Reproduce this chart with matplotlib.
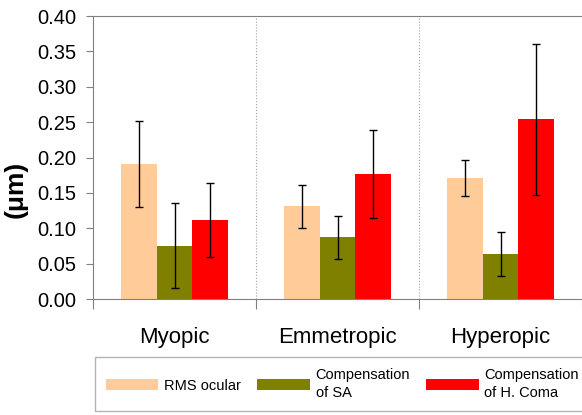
import numpy as np
import matplotlib.pyplot as plt

plt.rcParams['font.family'] = ['Liberation Sans', 'DejaVu Sans']

# data
groups = ['Myopic', 'Emmetropic', 'Hyperopic']
series = ['RMS ocular', 'Compensation\nof SA', 'Compensation\nof H. Coma']
rms = [0.191, 0.131, 0.171]
rms_err = [0.061, 0.030, 0.026]
sa = [0.075, 0.087, 0.063]
sa_err = [0.060, 0.030, 0.031]
coma = [0.112, 0.177, 0.254]
coma_err = [0.052, 0.062, 0.107]
colors = ['#FFCC99', '#808000', '#FF0000']

fig = plt.figure(figsize=(5.82, 4.15), dpi=100)
ax = fig.add_axes([93/582, 1-299/415, 489/582, 283/415])

x = np.arange(len(groups))
w = 0.22
handles = []
for i, (vals, errs) in enumerate([(rms, rms_err), (sa, sa_err), (coma, coma_err)]):
    b = ax.bar(x + (i-1)*w, vals, w, color=colors[i], label=series[i],
               yerr=errs, error_kw=dict(ecolor='black', elinewidth=1, capsize=3, capthick=1))
    handles.append(b)

ax.set_xlim(-0.5, 2.5)
ax.set_ylim(0, 0.40)
ax.set_yticks(np.arange(0, 0.401, 0.05))
ax.set_yticklabels(['%.2f' % v for v in np.arange(0, 0.401, 0.05)], fontsize=14.5)
ax.tick_params(axis='y', direction='out', length=5, color='#808080', pad=7)

ax.set_xticks([-0.5, 0.5, 1.5, 2.5])
ax.set_xticklabels([])
ax.tick_params(axis='x', which='major', direction='out', length=7, color='#808080')
ax.set_xticks(x, minor=True)
ax.set_xticklabels(groups, minor=True, fontsize=16)
ax.tick_params(axis='x', which='minor', length=0, pad=20)

for b in [0.5, 1.5]:
    ax.axvline(b, color='#a0a0a0', linestyle=':', linewidth=0.8)

for s in ['left', 'bottom', 'top']:
    ax.spines[s].set_color('#808080')
ax.spines['right'].set_visible(False)

ax.set_ylabel('(\u03bcm)', fontsize=19, fontweight='bold')
ax.yaxis.set_label_coords(-0.133, 0.389)

leg = fig.legend(handles=handles, loc='lower left', bbox_to_anchor=(95/582, 4/415),
                 ncol=3, fontsize=10.5, frameon=True, fancybox=False,
                 handlelength=3.6, handleheight=0.8, handletextpad=0.4,
                 columnspacing=1.1, borderpad=0.75, borderaxespad=0)
for t in leg.get_texts():
    t.set_linespacing(1.35)
leg.get_frame().set_edgecolor('#a0a0a0')
leg.get_frame().set_linewidth(1)

fig.savefig('out.png', dpi=100)
